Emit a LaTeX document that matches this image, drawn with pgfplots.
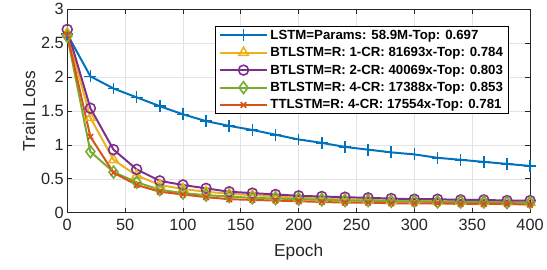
\documentclass[border=0pt]{standalone}
\usepackage{pgfplots}
\pgfplotsset{compat=1.18}
\usepackage{fontspec}
\setmainfont{Liberation Sans}
\definecolor{mblue}{rgb}{0,0.447,0.741}
\definecolor{morange}{rgb}{0.85,0.325,0.098}
\definecolor{myellow}{rgb}{0.929,0.694,0.125}
\definecolor{mpurple}{rgb}{0.494,0.184,0.556}
\definecolor{mgreen}{rgb}{0.466,0.674,0.188}
\definecolor{axgray}{rgb}{0.15,0.15,0.15}
\begin{document}
\begin{tikzpicture}
\begin{axis}[
  name=ax,
  scale only axis,
  width=468pt, height=206pt,
  xmin=0, xmax=400, ymin=0, ymax=3,
  xtick={0,50,...,400},
  ytick={0,0.5,...,3},
  yticklabels={0,0.5,1,1.5,2,2.5,3},
  /pgf/number format/assume math mode=true,
  tick label style={font=\fontsize{16.5}{18}\selectfont, text=axgray},
  xticklabel style={yshift=-3pt},
  label style={font=\fontsize{17.5}{19}\selectfont, text=axgray},
  xlabel={Epoch}, ylabel={Train Loss},
  xlabel style={yshift=-6pt},
  ylabel style={yshift=-1pt},
  grid=major,
  major grid style={gray!22, line width=0.7pt},
  axis line style={axgray, line width=0.8pt},
  tick style={axgray, line width=0.8pt},
  tick align=inside,
  major tick length=5pt,
  legend style={at={(0.953,0.917)}, anchor=north east, draw=black, fill=white, line width=0.8pt,
    font=\bfseries\fontsize{13.4}{15}\selectfont, row sep=2.8pt, inner xsep=3pt, inner ysep=1.5pt},
  legend cell align=left,
  legend image code/.code={
    \draw[mark repeat=2,mark phase=2] plot coordinates {(0cm,0cm) (0.85cm,0cm) (1.7cm,0cm)};},
  every axis plot/.append style={line width=2pt, mark options={solid, line width=1.6pt}},
]
\addplot[color=mblue, mark=+, mark size=6pt] coordinates {
(0,2.63) (20,2.01) (40,1.83) (60,1.70) (80,1.57) (100,1.45) (120,1.35) (140,1.28) (160,1.22) (180,1.15) (200,1.08) (220,1.03) (240,0.97) (260,0.93) (280,0.89) (300,0.86) (320,0.81) (340,0.78) (360,0.75) (380,0.72) (400,0.69)};
\addlegendentry{LSTM=Params: 58.9M-Top: 0.697}
\addplot[color=myellow, mark=triangle, mark size=5.5pt] coordinates {
(0,2.65) (20,1.40) (40,0.78) (60,0.55) (80,0.41) (100,0.35) (120,0.31) (140,0.28) (160,0.26) (180,0.24) (200,0.22) (220,0.21) (240,0.20) (260,0.19) (280,0.18) (300,0.18) (320,0.17) (340,0.17) (360,0.16) (380,0.16) (400,0.15)};
\addlegendentry{BTLSTM=R: 1-CR: 81693x-Top: 0.784}
\addplot[color=mpurple, mark=o, mark size=5pt] coordinates {
(0,2.70) (20,1.54) (40,0.93) (60,0.64) (80,0.47) (100,0.41) (120,0.36) (140,0.31) (160,0.29) (180,0.27) (200,0.25) (220,0.24) (240,0.23) (260,0.22) (280,0.21) (300,0.20) (320,0.20) (340,0.19) (360,0.19) (380,0.18) (400,0.18)};
\addlegendentry{BTLSTM=R: 2-CR: 40069x-Top: 0.803}
\addplot[color=mgreen, mark=diamond, mark size=6pt] coordinates {
(0,2.60) (20,0.90) (40,0.60) (60,0.45) (80,0.34) (100,0.29) (120,0.26) (140,0.24) (160,0.22) (180,0.21) (200,0.20) (220,0.19) (240,0.18) (260,0.18) (280,0.17) (300,0.17) (320,0.16) (340,0.16) (360,0.16) (380,0.15) (400,0.15)};
\addlegendentry{BTLSTM=R: 4-CR: 17388x-Top: 0.853}
\addplot[color=morange, mark=x, mark size=4pt] coordinates {
(0,2.62) (20,1.12) (40,0.59) (60,0.41) (80,0.31) (100,0.27) (120,0.23) (140,0.20) (160,0.19) (180,0.18) (200,0.17) (220,0.16) (240,0.15) (260,0.15) (280,0.14) (300,0.14) (320,0.14) (340,0.13) (360,0.13) (380,0.13) (400,0.12)};
\addlegendentry{TTLSTM=R: 4-CR: 17554x-Top: 0.781}
\end{axis}
\path (ax.south west) ++(-68pt,-57pt);
\path (ax.north east) ++(11pt,8pt);
\end{tikzpicture}
\end{document}
